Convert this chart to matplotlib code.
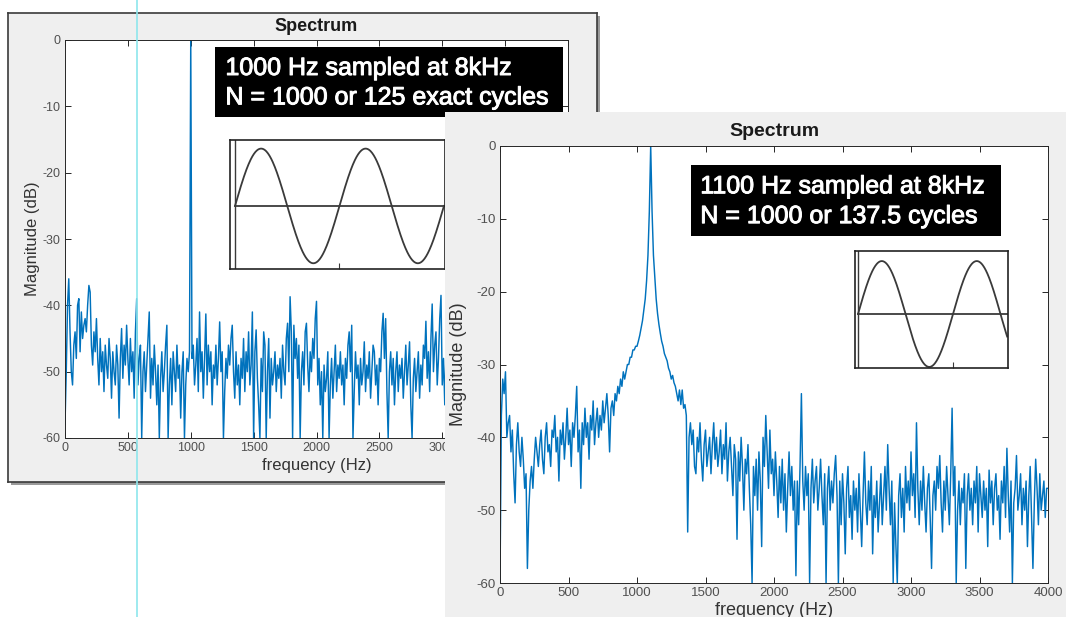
import numpy as np
import matplotlib
matplotlib.use('Agg')
import matplotlib.pyplot as plt
from matplotlib.lines import Line2D
import matplotlib.patheffects as pe

plt.rcParams['font.family'] = ['Liberation Sans', 'DejaVu Sans']
plt.rcParams['axes.unicode_minus'] = False

# spectre gauche : 1000 Hz, pas de 10 Hz (partie visible 0..3030 Hz)
step = 10
mag_left = [
    -58, -50, -40, -36, -44, -50, -52, -46, -44, -48, -40, -39, -47, -41, -45, -43, -42, -44, -40, -37,
    -38, -46, -49, -44, -47, -42, -48, -52, -45, -50, -47, -53, -46, -49, -51, -45, -48, -54, -47, -50,
    -52, -46, -49, -57, -48, -43.5, -51, -46, -49, -43, -48, -52, -45, -50, -47, -54, -44, -39, -52, -48,
    -46, -60, -50, -47, -53, -49, -45, -41, -54, -48, -52, -46, -50, -55, -49, -60, -51, -47, -53, -50,
    -46, -43, -60, -52, -48, -55, -47, -50, -53, -46, -51, -49, -57, -50, -47, -60, -52, -48, -50, -47,
    0, -48, -46, -52, -49, -45, -53, -41, -50, -47, -54, -48, -41.3, -52, -46, -50, -47, -55, -49, -51,
    -46, -52, -48, -42.5, -50, -47, -60, -53, -48, -51, -46, -49, -45, -43, -50, -54, -47, -52, -49, -55,
    -48, -51, -45, -53, -47, -50, -44, -52, -49, -41, -60, -47, -43.7, -51, -55, -60, -48, -53, -44, -46,
    -60, -50, -45, -57, -48, -52, -50, -47, -53, -49, -51, -48, -54, -46, -50, -52, -45, -42.7, -50, -38.7,
    -44, -60, -43, -48, -45, -51, -46, -60, -50, -47, -52, -44, -42.7, -49, -53, -47, -50, -45, -48, -42,
    -39.4, -52, -48, -55, -50, -60, -49, -53, -51, -47, -60, -52, -48, -54, -50, -46, -53, -49, -51, -47,
    -52, -49, -55, -48, -51, -46, -44, -50, -43, -60, -53, -47, -51, -49, -55, -48, -52, -50, -45.5, -53,
    -49, -51, -47, -54, -50, -46, -47, -52, -49, -55, -48, -50, -44, -41.2, -48, -42, -53, -60, -50, -47,
    -52, -48, -55, -50, -47, -53, -49, -51, -48, -54, -50, -46, -52, -49, -45.5, -55, -60, -51, -48, -53,
    -50, -47, -54, -49, -52, -46, -48, -42.4, -51, -47, -53, -45, -39.8, -50, -46, -44, -52, -48, -42, -38.5,
    -52, -48, -55, -47,
]

# spectre droit : 1100 Hz, pas de 10 Hz (0..4000 Hz)
mag_right = [
    -60, -37, -32, -34, -31, -40, -38, -37, -42, -39, -45, -49, -41, -38, -42, -44, -40, -43, -47, -45,
    -58, -50, -46, -44, -47, -43, -40, -42, -44, -41, -39, -43, -45, -40, -38, -42, -41, -44, -39, -40,
    -37, -42, -40, -46, -39, -41, -38, -43, -40, -36, -41, -39, -44, -38, -40, -37, -33, -42, -39, -47,
    -38, -41, -36, -40, -38, -43, -37, -39, -35, -41, -38, -36, -40, -37, -39, -35, -38, -36, -34, -37,
    -42, -36, -35, -37, -34, -35, -33, -34, -32, -33, -31, -32, -31, -30, -30, -29, -29, -28, -28, -27.5,
    -27.5, -26.8, -26, -25, -24, -22.5, -21, -18.5, -15, -9, 0, -9, -15, -18, -21, -23, -24.5, -25.7, -26.8, -27.5,
    -28.5, -29, -29.5, -30.5, -31, -32, -31.5, -32.5, -33, -34, -35, -33.5, -35.5, -33.5, -36, -35.5, -37, -53, -40, -38,
    -41, -39, -44, -45, -40, -42, -38, -43, -46, -41, -39, -44, -42, -40, -45, -41, -38, -43, -40, -44,
    -42, -39, -45, -41, -43, -38, -46, -42, -40, -44, -48, -41, -43, -54, -42, -46, -40, -44, -50, -43,
    -45, -41, -47, -52, -60, -44, -48, -43, -50, -42, -46, -55, -40, -44, -37, -42, -47, -39, -45, -43,
    -48, -42, -46, -51, -44, -49, -43, -50, -45, -53, -47, -42, -48, -44, -50, -46, -59, -46, -52, -44,
    -34, -46, -50, -44, -48, -45, -60, -47, -43, -49, -46, -44, -50, -47, -43, -48, -52, -45, -60, -47,
    -44, -50, -46, -49, -45, -42.5, -48, -60, -46, -52, -45, -49, -56, -47, -44, -51, -48, -54, -46, -50,
    -47, -53, -45, -50, -55, -48, -42, -49, -52, -46, -50, -44, -56, -48, -51, -46, -53, -49, -45, -52,
    -48, -44, -50, -41, -47, -52, -46, -60, -49, -55, -60, -48, -45, -51, -47, -53, -44, -49, -46, -50,
    -42, -48, -45, -51, -38, -47, -52, -46, -50, -44, -49, -53, -47, -45, -51, -58, -48, -46, -50, -44,
    -47, -42.5, -49, -53, -46, -50, -44, -48, -52, -45, -36, -48, -44, -60, -50, -46, -52, -47, -49, -45,
    -58, -48, -45, -50, -47, -52, -46, -49, -44, -53, -45, -48, -51, -46, -50, -47, -55, -44.5, -49, -46,
    -52, -47, -45, -50, -48, -54, -46, -49, -44, -51, -41.5, -48, -53, -46, -60, -49, -47, -42.5, -50, -48,
    -45, -52, -47, -50, -46, -55, -48, -44, -51, -58, -49, -43, -47, -52, -45, -50, -48, -46, -51, -47,
    -47,
]

freq_left = np.arange(len(mag_left)) * step
freq_right = np.arange(len(mag_right)) * step

xticks = [0, 500, 1000, 1500, 2000, 2500, 3000, 3500, 4000]
yticks = [0, -10, -20, -30, -40, -50, -60]

box_left = ['1000 Hz sampled at 8kHz', 'N = 1000 or 125 exact cycles']
box_right = ['1100 Hz sampled at 8kHz', 'N = 1000 or 137.5 cycles']
cycles_left = 2.0     # periodes visibles dans l'encart
cycles_right = 1.57

W, H = 1072, 617
blue = '#0072BD'
grey_bg = '#efefef'


def rect(x0, y0, x1, y1):
    # coordonnees pixel -> fraction de figure
    return [x0 / W, 1 - y1 / H, (x1 - x0) / W, (y1 - y0) / H]


def plain(ax, face, edge=None, lw=1.0):
    ax.set_facecolor(face)
    ax.set_xticks([])
    ax.set_yticks([])
    for s in ax.spines.values():
        if edge is None:
            s.set_visible(False)
        else:
            s.set_color(edge)
            s.set_linewidth(lw)


def spectrum(ax, f, m, fs_tick, fs_label, fs_title, ylab_x, xlab_y):
    ax.plot(f, m, color=blue, lw=1.05)
    ax.set_xlim(0, 4000)
    ax.set_ylim(-60, 0)
    ax.set_xticks(xticks)
    ax.set_yticks(yticks)
    ax.tick_params(direction='in', top=True, right=True, length=4, width=0.7,
                   colors='#262626', labelcolor='#505050', labelsize=fs_tick, pad=3)
    for s in ax.spines.values():
        s.set_color('#262626')
        s.set_linewidth(0.7)
    ax.set_ylabel('Magnitude (dB)', fontsize=fs_label, color='#333333')
    ax.set_xlabel('frequency (Hz)', fontsize=fs_label, color='#333333')
    ax.yaxis.set_label_coords(ylab_x, 0.5)
    ax.xaxis.set_label_coords(0.5, xlab_y)
    ax.text(0.5, 1.034, 'Spectrum', transform=ax.transAxes, ha='center', va='center',
            fontsize=fs_title, fontweight='bold', color='#1a1a1a')


def textbox(r, lines, z):
    ax = fig.add_axes(r)
    plain(ax, 'black')
    ax.set_zorder(z)
    fx = [pe.withStroke(linewidth=0.7, foreground='white')]
    ax.text(0.03, 0.70, lines[0], color='white', fontsize=18, ha='left', va='center',
            transform=ax.transAxes, path_effects=fx)
    ax.text(0.03, 0.28, lines[1], color='white', fontsize=18, ha='left', va='center',
            transform=ax.transAxes, path_effects=fx)


def inset(r, cycles, xl, yl, z):
    ax = fig.add_axes(r)
    plain(ax, 'white', '#222222', 1.2)
    ax.set_zorder(z)
    t = np.linspace(0, cycles, 400)
    ax.plot(t, np.sin(2 * np.pi * t), color='#3a3a3a', lw=1.3)
    ax.plot([0, cycles + 0.05], [0, 0], color='#3a3a3a', lw=1.3)
    ax.axvline(0, color='#3a3a3a', lw=1.0)
    ax.set_xlim(*xl)
    ax.set_ylim(*yl)
    ax.set_xticks([1.0])
    ax.tick_params(direction='in', length=4, width=0.8, colors='#3a3a3a', labelbottom=False)


fig = plt.figure(figsize=(W / 100, H / 100), dpi=100)
fig.patch.set_facecolor('white')

# fenetre de gauche
sh = fig.add_axes(rect(11, 16, 600, 485))
plain(sh, '#9a9a9a')
sh.set_zorder(1)
win1 = fig.add_axes(rect(8, 13, 597, 482))
plain(win1, grey_bg, '#3a3a3a', 1.2)
win1.set_zorder(2)

ax1 = fig.add_axes(rect(65, 40, 568, 438))
ax1.set_zorder(3)
spectrum(ax1, freq_left, mag_left, 9, 12, 13, -0.05, -0.05)
textbox(rect(215, 47, 563, 117), box_left, 4)
inset(rect(230, 140, 445, 269), cycles_left, (-0.048, 2.01), (-1.1, 1.15), 5)

# fenetre de droite
win2 = fig.add_axes(rect(445, 112, 1066, 625))
plain(win2, grey_bg)
win2.set_zorder(10)

ax2 = fig.add_axes(rect(500, 146, 1048, 583))
ax2.set_zorder(11)
spectrum(ax2, freq_right, mag_right, 9.5, 13, 14, -0.06, -0.043)
textbox(rect(691, 165, 1001, 236), box_right, 12)
inset(rect(855, 251, 1008, 368), cycles_right, (-0.032, 1.579), (-1.02, 1.19), 13)

# trait cyan vertical
fig.add_artist(Line2D([137 / W, 137 / W], [0, 1], transform=fig.transFigure,
                      color='#8ee6ec', lw=1.2, zorder=50))

plt.savefig('out.png', dpi=100)
